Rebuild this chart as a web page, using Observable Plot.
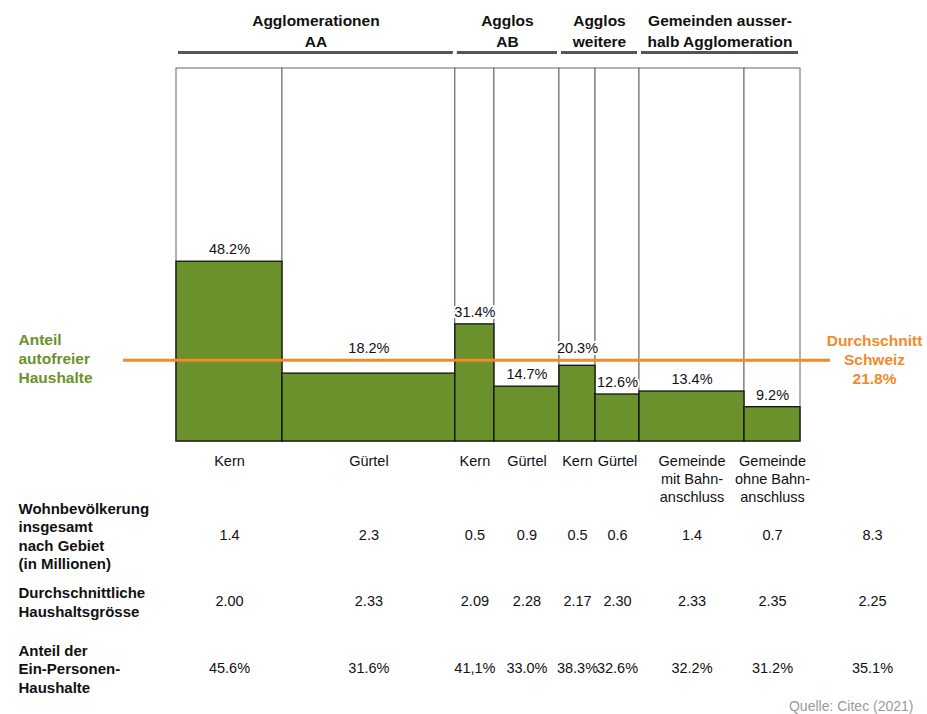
<!DOCTYPE html>
<html>
<head>
<meta charset="utf-8">
<script src="https://cdn.jsdelivr.net/npm/d3@7"></script>
<script src="https://cdn.jsdelivr.net/npm/@observablehq/plot@0.6"></script>
<style>
  html, body { margin: 0; padding: 0; background: #fff; }
  #chart svg { display: block; }
</style>
</head>
<body>
<div id="chart"></div>
<script>
// ---- Data ----
const categories = ["Kern", "Gürtel", "Kern", "Gürtel", "Kern", "Gürtel", "Gemeinde\nmit Bahn-\nanschluss", "Gemeinde\nohne Bahn-\nanschluss"];
const groupOf = [0, 0, 1, 1, 2, 2, 3, 3];
const groupLabels = ["Agglomerationen\nAA", "Agglos\nAB", "Agglos\nweitere", "Gemeinden ausser-\nhalb Agglomeration"];
// population in millions (estimated from column widths; shown rounded to 1 decimal)
const population = [1.41, 2.30, 0.52, 0.865, 0.48, 0.585, 1.397, 0.745];
const carFreeShare = [48.2, 18.2, 31.4, 14.7, 20.3, 12.6, 13.4, 9.2]; // %
const householdSize = ["2.00", "2.33", "2.09", "2.28", "2.17", "2.30", "2.33", "2.35"];
const onePersonShare = ["45.6%", "31.6%", "41,1%", "33.0%", "38.3%", "32.6%", "32.2%", "31.2%"];
const totalPopulation = "8.3";
const totalHouseholdSize = "2.25";
const totalOnePersonShare = "35.1%";
const swissAverage = 21.8;
const rowLabels = ["Wohnbevölkerung\ninsgesamt\nnach Gebiet\n(in Millionen)", "Durchschnittliche\nHaushaltsgrösse", "Anteil der\nEin-Personen-\nHaushalte"];
const sourceText = "Quelle: Citec (2021)";

// ---- Derived table ----
let acc = 0;
const cols = categories.map((c, i) => {
  const x0 = acc; acc += population[i];
  return {cat: c, group: groupOf[i], pop: population[i], share: carFreeShare[i],
          hh: householdSize[i], one: onePersonShare[i], x0, x1: acc, xm: (x0 + acc) / 2};
});
const total = acc;
const groups = groupLabels.map((g, gi) => {
  const cs = cols.filter(c => c.group === gi);
  const x0 = cs[0].x0, x1 = cs[cs.length - 1].x1;
  return {label: g, x0, x1, xm: (x0 + x1) / 2};
});
// labels that would collide with the average line are lifted above it
const labelY = d => (Math.abs(d.share - swissAverage) < 4 ? swissAverage : d.share);

const green = "#6b912c";
const orange = "#f28a2a";
const regular = "'Liberation Sans', Arial, Helvetica, sans-serif";
const bold = "'Liberation Sans', Arial, Helvetica, sans-serif";
const fs = 14.5;

const rows = [
  {label: rowLabels[0], values: cols.map(d => d.pop.toFixed(1)), total: totalPopulation, dy: 94},
  {label: rowLabels[1], values: cols.map(d => d.hh), total: totalHouseholdSize, dy: 160},
  {label: rowLabels[2], values: cols.map(d => d.one), total: totalOnePersonShare, dy: 227}
];

const marks = [
  // full-height frame per column
  Plot.rect(cols, {x1: "x0", x2: "x1", y1: () => 0, y2: () => 100, fill: "white", stroke: "#666", strokeWidth: 1}),
  // car-free share bars
  Plot.rect(cols, {x1: "x0", x2: "x1", y1: () => 0, y2: "share", fill: green, stroke: "#111", strokeWidth: 1.3}),
  // Swiss average
  Plot.ruleY([swissAverage], {stroke: orange, strokeWidth: 3, insetLeft: -53, insetRight: -30}),
  // percentage labels
  Plot.text(cols, {x: "xm", y: labelY, text: d => d.share.toFixed(1) + "%", dy: -12, lineAnchor: "middle",
    fontFamily: regular, fontSize: fs, fill: "#111", stroke: "white", strokeWidth: 4, paintOrder: "stroke"}),
  // group headers
  Plot.text(groups, {x: "xm", y: () => 100, text: "label", dy: -22, lineAnchor: "bottom", lineHeight: 1.3,
    fontFamily: bold, fontWeight: "bold", fontSize: 15.5, fill: "#111"}),
  Plot.ruleY(groups, {x1: "x0", x2: "x1", y: () => 100, dy: -16, stroke: "#555", strokeWidth: 3, insetLeft: 2, insetRight: 2}),
  // category labels
  Plot.text(cols, {x: "xm", y: () => 0, text: "cat", dy: 12, lineAnchor: "top", lineHeight: 1.24,
    fontFamily: regular, fontSize: fs, fill: "#111"}),
  // side labels
  Plot.text(["Anteil\nautofreier\nHaushalte"], {x: () => 0, y: () => swissAverage, text: d => d, dx: -158, dy: -2,
    textAnchor: "start", lineAnchor: "middle", lineHeight: 1.23, fontFamily: bold, fontWeight: "bold", fontSize: 15.5, fill: green}),
  Plot.text([`Durchschnitt\nSchweiz\n${swissAverage.toFixed(1)}%`], {x: () => total, y: () => swissAverage, text: d => d, dx: 74, dy: -1,
    textAnchor: "middle", lineAnchor: "middle", lineHeight: 1.23, fontFamily: bold, fontWeight: "bold", fontSize: 15.5, fill: orange}),
  // source
  Plot.text([sourceText], {x: () => total, y: () => 0, text: d => d, dx: 113, dy: 265, textAnchor: "end",
    fontFamily: regular, fontSize: 14, fill: "#9a9a9a"})
];

for (const r of rows) {
  marks.push(Plot.text([r.label], {x: () => 0, y: () => 0, text: d => d, dx: -158, dy: r.dy, textAnchor: "start",
    lineAnchor: "middle", lineHeight: 1.22, fontFamily: bold, fontWeight: "bold", fontSize: 15, fill: "#111"}));
  marks.push(Plot.text(cols, {x: "xm", y: () => 0, text: (d, i) => r.values[i], dy: r.dy, lineAnchor: "middle",
    fontFamily: regular, fontSize: fs, fill: "#111"}));
  marks.push(Plot.text([r.total], {x: () => total, y: () => 0, text: d => d, dx: 72, dy: r.dy, lineAnchor: "middle",
    fontFamily: regular, fontSize: fs, fill: "#111"}));
}

const chart = Plot.plot({
  width: 927,
  height: 714,
  marginLeft: 176,
  marginRight: 127,
  marginTop: 68,
  marginBottom: 273,
  x: {domain: [0, total], axis: null},
  y: {domain: [0, 100], axis: null},
  style: {background: "white", overflow: "visible"},
  marks
});
document.getElementById("chart").appendChild(chart);
</script>
</body>
</html>
